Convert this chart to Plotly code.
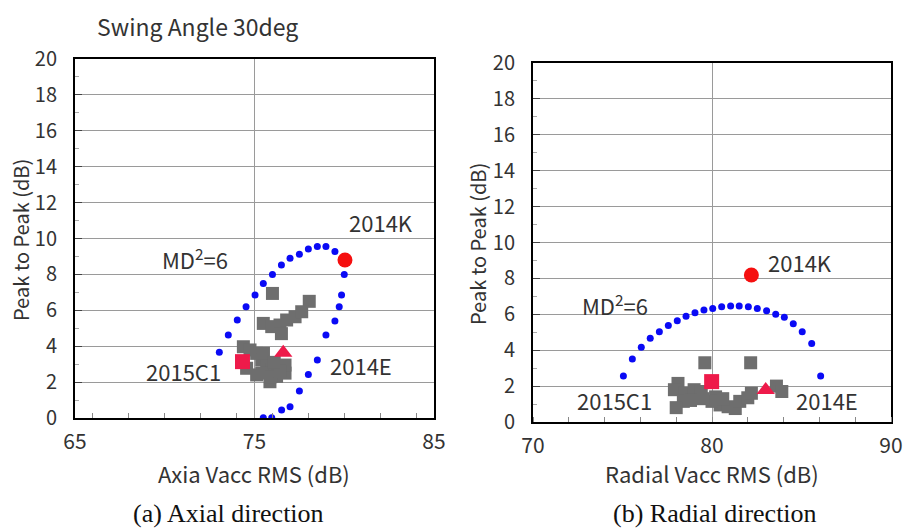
import plotly.graph_objects as go

# ---------------- data ----------------
# (a) Axial direction
ax_ellipse_x = [73.04, 73.54, 74.04, 74.53, 75.03, 75.49, 76.0, 76.5, 76.98, 77.5, 78.0, 78.5, 78.98, 79.48,
                80.0, 79.85, 79.72, 79.48, 78.98, 78.5, 78.0, 77.5, 76.98, 76.51, 75.96, 75.49]
ax_ellipse_y = [3.66, 4.62, 5.46, 6.2, 6.85, 7.5, 8.0, 8.52, 8.9, 9.12, 9.42, 9.55, 9.55, 9.27,
                8.0, 6.85, 6.2, 5.4, 4.62, 3.23, 2.43, 1.5, 0.63, 0.45, 0.02, 0.02]
ax_grey_x = [76.0, 78.05, 75.49, 75.96, 76.42, 76.79, 77.26, 77.63, 76.5, 74.38, 74.75, 75.12, 75.4,
             75.68, 75.96, 76.5, 76.7, 75.86, 74.56, 75.12, 76.23, 76.7, 75.5, 75.4, 75.9, 76.4, 76.1]
ax_grey_y = [6.94, 6.5, 5.27, 5.09, 5.18, 5.46, 5.64, 5.92, 4.7, 3.97, 3.79, 3.6, 3.23,
             2.95, 2.67, 2.86, 2.5, 2.02, 2.77, 2.4, 2.32, 2.95, 3.6, 2.5, 2.3, 2.6, 3.1]
ax_2014K = (80.04, 8.8)
ax_2015C1 = (74.33, 3.14)
ax_2014E = (76.6, 3.64)

# (b) Radial direction
rd_ellipse_x = [75.05, 75.55, 76.05, 76.55, 77.06, 77.56, 78.06, 78.55, 79.05, 79.55, 80.04, 80.54,
                81.04, 81.52, 82.03, 82.53, 83.05, 83.56, 84.04, 84.54, 85.04, 85.57, 86.07]
rd_ellipse_y = [2.56, 3.51, 4.16, 4.66, 5.03, 5.37, 5.64, 5.89, 6.09, 6.24, 6.33, 6.42,
                6.46, 6.46, 6.42, 6.33, 6.2, 6.0, 5.83, 5.48, 5.03, 4.38, 2.56]
rd_grey_x = [79.6, 82.16, 78.1, 77.9, 78.5, 79.0, 79.4, 78.4, 78.0, 80.2, 80.45, 80.9, 81.3,
             81.55, 82.0, 82.2, 83.6, 83.9, 80.0, 79.5, 78.8, 80.6]
rd_grey_y = [3.3, 3.3, 2.15, 1.8, 1.6, 1.8, 1.7, 1.15, 0.8, 1.4, 0.95, 0.85, 0.75,
             1.15, 1.35, 1.6, 2.0, 1.7, 1.15, 1.3, 1.2, 1.3]
rd_2014K = (82.2, 8.19)
rd_2015C1 = (79.98, 2.25)
rd_2014E = (83.0, 1.78)

# label positions (data coords)
ax_labels = [("2014K", 82.07, 10.92), ("MD<sup>2</sup>=6", 71.69, 8.91),
             ("2015C1", 71.07, 2.62), ("2014E", 80.93, 2.95)]
rd_labels = [("2014K", 84.89, 8.89), ("MD<sup>2</sup>=6", 74.58, 6.52),
             ("2015C1", 74.53, 1.2), ("2014E", 86.45, 1.25)]

ax_xticks = [65, 75, 85]
rd_xticks = [70, 80, 90]
y_ticks = list(range(0, 21, 2))

# ---------------- style ----------------
FONT = "Noto Sans CJK JP"
TXT = "#333333"
BLUE = "#0a0af5"
GREY = "#6e6e6e"
RED_C = "#f50f0f"
RED_M = "#ee1a4a"

fig = go.Figure()


def add_panel(xa, ya, ex, ey, gx, gy, k, c1, e):
    fig.add_trace(go.Scatter(x=gx, y=gy, mode="markers", xaxis=xa, yaxis=ya,
                             marker=dict(symbol="square", size=13, color=GREY), showlegend=False))
    fig.add_trace(go.Scatter(x=ex, y=ey, mode="markers", xaxis=xa, yaxis=ya,
                             marker=dict(symbol="circle", size=7, color=BLUE), showlegend=False))
    fig.add_trace(go.Scatter(x=[k[0]], y=[k[1]], mode="markers", xaxis=xa, yaxis=ya,
                             marker=dict(symbol="circle", size=15, color=RED_C), showlegend=False))
    fig.add_trace(go.Scatter(x=[c1[0]], y=[c1[1]], mode="markers", xaxis=xa, yaxis=ya,
                             marker=dict(symbol="square", size=15, color=RED_M), showlegend=False))
    fig.add_trace(go.Scatter(x=[e[0]], y=[e[1]], mode="markers", xaxis=xa, yaxis=ya,
                             marker=dict(symbol="triangle-up", size=16, color=RED_M), showlegend=False))


add_panel("x", "y", ax_ellipse_x, ax_ellipse_y, ax_grey_x, ax_grey_y, ax_2014K, ax_2015C1, ax_2014E)
add_panel("x2", "y2", rd_ellipse_x, rd_ellipse_y, rd_grey_x, rd_grey_y, rd_2014K, rd_2015C1, rd_2014E)

# the page body margin is removed by the post script, so the figure fills the window
W, H = 904, 529


def xdom(a, b):
    return [a / W, b / W]


def ydom(top, bottom):
    return [(H - bottom) / H, (H - top) / H]


common_x = dict(showline=True, linecolor="black", linewidth=2, mirror=True,
                showgrid=True, gridcolor="#9a9a9a", gridwidth=1.2,
                ticks="", zeroline=False, automargin=False,
                minor=dict(dtick=2, ticks="inside", ticklen=5, tickcolor="#888888", showgrid=False),
                tickfont=dict(family=FONT, size=21, color=TXT), ticklabelstandoff=4)
common_y = dict(showline=True, linecolor="black", linewidth=2, mirror=True,
                showgrid=True, gridcolor="#9a9a9a", gridwidth=1.2,
                ticks="inside", ticklen=7, tickcolor="#444444", zeroline=False, automargin=False,
                tickvals=y_ticks, range=[0, 20],
                minor=dict(dtick=1, ticks="inside", ticklen=4, tickcolor="#aaaaaa", showgrid=False),
                tickfont=dict(family=FONT, size=20, color=TXT), ticklabelstandoff=12)

annotations = []
for text, x, y in ax_labels:
    annotations.append(dict(text=text, x=x, y=y, xref="x", yref="y", showarrow=False,
                            font=dict(family=FONT, size=22, color=TXT)))
for text, x, y in rd_labels:
    annotations.append(dict(text=text, x=x, y=y, xref="x2", yref="y2", showarrow=False,
                            font=dict(family=FONT, size=22, color=TXT)))


def pa(text, px, py, size, family=FONT, color=TXT, angle=0, xanchor="center"):
    annotations.append(dict(text=text, x=px / W, y=1 - py / H, xref="paper", yref="paper",
                            showarrow=False, xanchor=xanchor, yanchor="middle", textangle=angle,
                            font=dict(family=family, size=size, color=color)))


pa("Swing Angle 30deg", 95, 26, 23, xanchor="left")
pa("Axia Vacc RMS (dB)", 254, 473, 22)
pa("Radial Vacc RMS (dB)", 712, 473, 22)
pa("Peak to Peak (dB)", 20, 240, 20, angle=-90)
pa("Peak to Peak (dB)", 478, 244, 20, angle=-90)
pa("(a) Axial direction", 228, 513, 26, family="Liberation Serif", color="#111111")
pa("(b) Radial direction", 715, 513, 26, family="Liberation Serif", color="#111111")

fig.update_layout(
    width=W, height=H,
    margin=dict(l=0, r=0, t=0, b=0, autoexpand=False),
    paper_bgcolor="white", plot_bgcolor="white",
    showlegend=False,
    xaxis=dict(domain=xdom(75, 434), range=[65, 85], tickvals=ax_xticks, anchor="y", **common_x),
    yaxis=dict(domain=ydom(59, 418), anchor="x", **common_y),
    xaxis2=dict(domain=xdom(533, 891), range=[70, 90], tickvals=rd_xticks, anchor="y2", **common_x),
    yaxis2=dict(domain=ydom(63, 422), anchor="x2", **common_y),
    annotations=annotations,
)

fig.write_html("out.html", config={"displayModeBar": False},
               post_script="document.body.style.margin='0';document.body.style.overflow='hidden';")
